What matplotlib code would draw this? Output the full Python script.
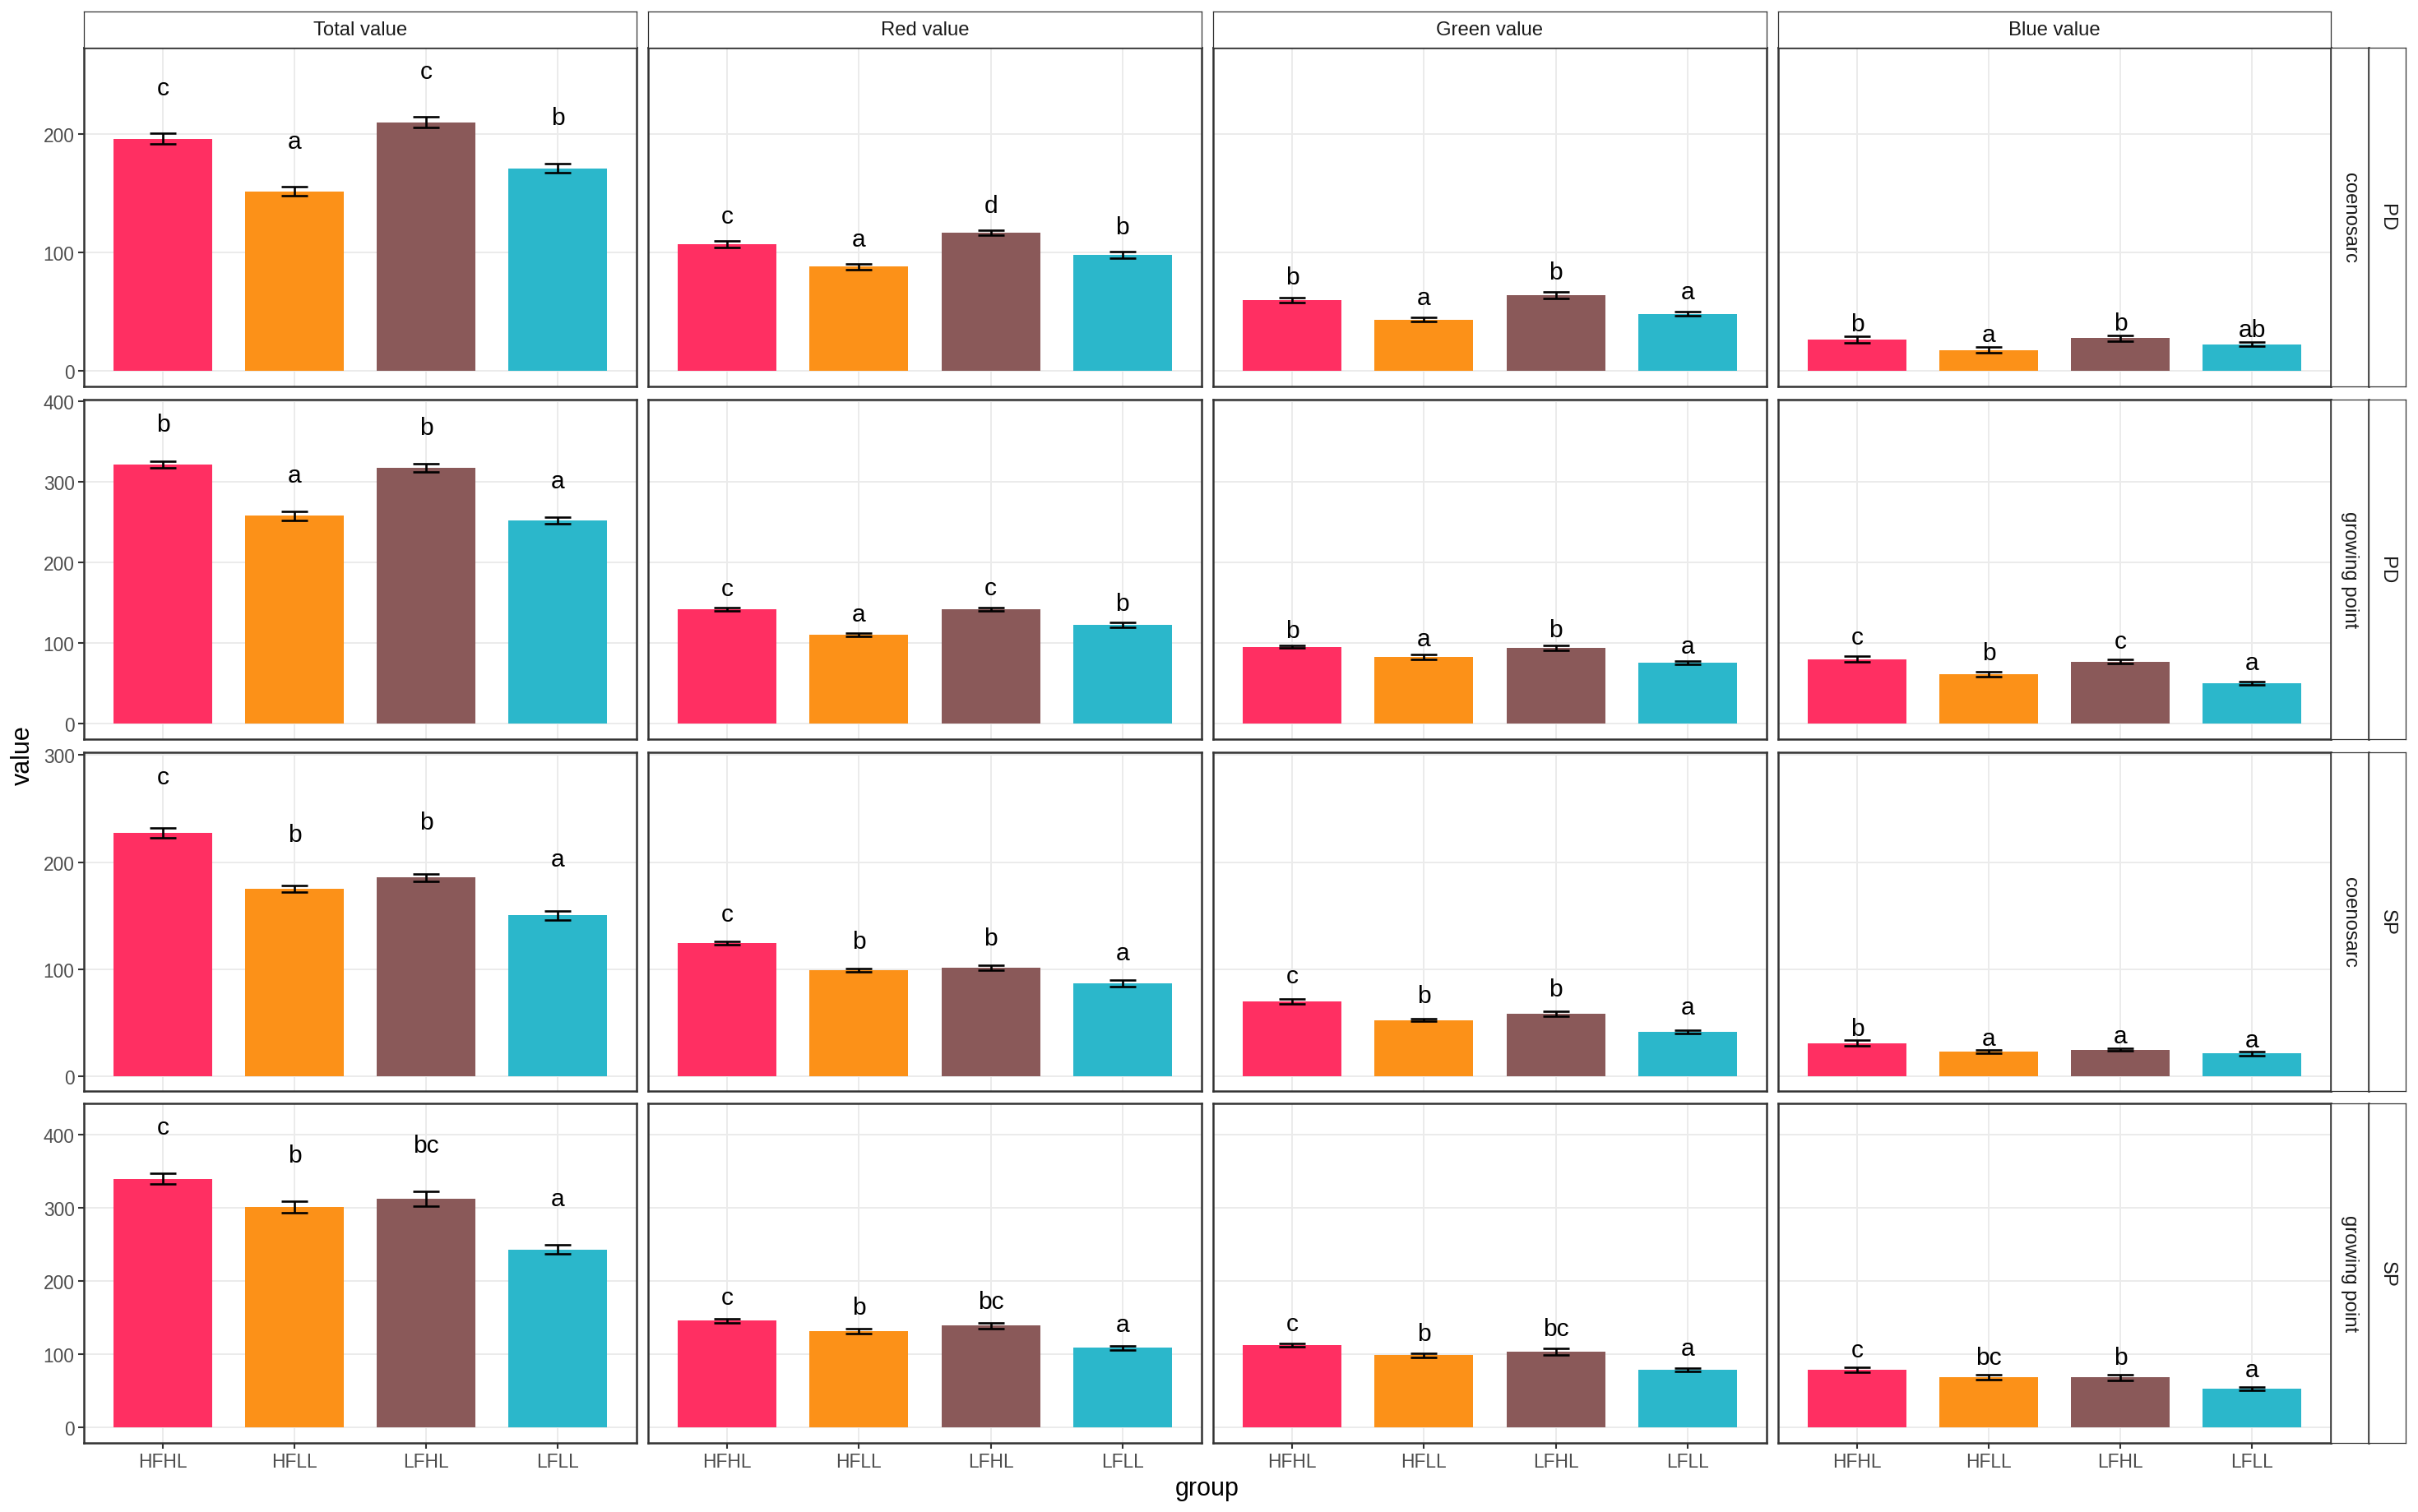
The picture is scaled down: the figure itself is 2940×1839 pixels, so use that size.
import numpy as np
import matplotlib
matplotlib.use("Agg")
import matplotlib.pyplot as plt

plt.rcParams["font.family"] = ["Liberation Sans", "DejaVu Sans"]

# ---- data ----
groups = ["HFHL", "HFLL", "LFHL", "LFLL"]
measures = ["Total value", "Red value", "Green value", "Blue value"]
tissue = ["coenosarc", "growing point", "coenosarc", "growing point"]
species = ["PD", "PD", "SP", "SP"]

# one list per facet row; inside: the 4 group means / standard errors
total_mean = [[196.0, 151.5, 209.7, 171.0], [321.9, 258.2, 317.8, 252.4],
              [227.2, 175.0, 185.8, 150.4], [339.5, 301.0, 312.4, 242.7]]
total_se = [[4.3, 3.9, 4.5, 3.9], [4.5, 5.5, 5.0, 3.7],
            [4.5, 3.0, 3.6, 4.5], [7.5, 8.0, 10.0, 6.2]]
red_mean = [[107.1, 88.0, 116.8, 98.2], [142.3, 110.6, 142.3, 123.1],
            [124.3, 99.1, 101.4, 86.7], [145.5, 131.3, 138.7, 108.4]]
red_se = [[2.8, 2.6, 2.2, 2.8], [2.0, 1.8, 2.5, 3.0],
          [1.6, 1.6, 2.3, 3.0], [3.0, 3.7, 4.4, 3.0]]
green_mean = [[60.0, 43.4, 63.7, 48.3], [95.6, 83.1, 94.4, 75.9],
              [70.2, 52.8, 58.3, 41.7], [112.5, 98.3, 103.7, 78.8]]
green_se = [[2.2, 1.6, 2.8, 1.6], [1.8, 3.3, 3.3, 1.8],
            [2.5, 1.2, 2.3, 1.6], [2.4, 2.7, 4.4, 2.4]]
blue_mean = [[26.4, 17.8, 27.6, 22.7], [80.1, 61.6, 77.1, 50.8],
             [31.2, 23.4, 25.2, 21.6], [78.8, 68.7, 68.0, 53.2]]
blue_se = [[2.6, 2.6, 2.4, 2.0], [3.6, 3.3, 2.4, 2.0],
           [2.5, 1.4, 1.4, 1.8], [3.7, 3.7, 4.0, 2.4]]

total_sig = [["c", "a", "c", "b"], ["b", "a", "b", "a"], ["c", "b", "b", "a"], ["c", "b", "bc", "a"]]
red_sig = [["c", "a", "d", "b"], ["c", "a", "c", "b"], ["c", "b", "b", "a"], ["c", "b", "bc", "a"]]
green_sig = [["b", "a", "b", "a"], ["b", "a", "b", "a"], ["c", "b", "b", "a"], ["c", "b", "bc", "a"]]
blue_sig = [["b", "a", "b", "ab"], ["c", "b", "c", "a"], ["b", "a", "a", "a"], ["c", "bc", "b", "a"]]

means = [total_mean, red_mean, green_mean, blue_mean]
ses = [total_se, red_se, green_se, blue_se]
sigs = [total_sig, red_sig, green_sig, blue_sig]

# ---- style / layout ----
colors = ["#FF2F62", "#FC9118", "#8A5959", "#2BB7CB"]
label_pad = [[33, 37, 42, 54], [15, 15.6, 19.3, 20],      # letter lift above bar+se, per panel
             [11.2, 10.6, 15, 17.7], [4.9, 15.2, 4.8, 14]]
row_ylim = [(-13, 272.7), (-19, 402.5), (-13.5, 302.6), (-21.3, 442.4)]
row_ticks = [[0, 100, 200], [0, 100, 200, 300, 400], [0, 100, 200, 300], [0, 100, 200, 300, 400]]

W, H, DPI = 2940, 1840, 200
col_px = [(102, 774), (788, 1461), (1475, 2148), (2162, 2834)]
row_px = [(59, 471), (487, 900), (916, 1328), (1343, 1756)]
GRID = "#EBEBEB"; BORDER = "#333333"

def box(l, t, r, b):
    return [l / W, 1 - b / H, (r - l) / W, (b - t) / H]

def strip(l, t, r, b, text, rot=0, thick_right=False):
    s = fig.add_axes(box(l, t, r, b))
    s.set_xticks([]); s.set_yticks([])
    s.set_facecolor("white")
    for sp in s.spines.values():
        sp.set_color(BORDER); sp.set_linewidth(0.45)
    if thick_right:
        s.spines["right"].set_linewidth(0.9)
    s.text(0.5, 0.5, text, transform=s.transAxes, ha="center", va="center",
           rotation=rot, fontsize=8.6, color="#1A1A1A")

fig = plt.figure(figsize=(W / DPI, H / DPI), dpi=DPI)
x = np.arange(len(groups))

for r in range(4):
    for c in range(4):
        l, rr = col_px[c]; t, b = row_px[r]
        ax = fig.add_axes(box(l, t, rr, b))
        m = np.array(means[c][r]); e = np.array(ses[c][r])
        ax.set_axisbelow(True)
        ax.grid(True, color=GRID, lw=0.7)
        ax.bar(x, m, width=0.75, color=colors, zorder=2)
        ax.vlines(x, m - e, m + e, color="black", lw=0.95, zorder=3)
        ax.hlines(np.concatenate([m - e, m + e]), np.tile(x - 0.1, 2), np.tile(x + 0.1, 2),
                  color="black", lw=0.95, zorder=3)
        for i in range(len(groups)):
            ax.text(x[i], m[i] + e[i] + label_pad[c][r], sigs[c][r][i], ha="center",
                    va="baseline", fontsize=10.8, color="black", zorder=4)
        ax.set_xlim(-0.6, 3.6)
        ax.set_ylim(*row_ylim[r])
        ax.set_yticks(row_ticks[r]); ax.set_xticks(x)
        for sp in ax.spines.values():
            sp.set_color(BORDER); sp.set_linewidth(0.9)
        ax.tick_params(length=2.5, width=0.75, color=BORDER, labelsize=8.2,
                       labelcolor="#4D4D4D", pad=1.6)
        if c == 0:
            ax.set_yticklabels([str(v) for v in row_ticks[r]])
        else:
            ax.tick_params(axis="y", length=0, labelleft=False)
        if r == 3:
            ax.set_xticklabels(groups)
        else:
            ax.tick_params(axis="x", length=0, labelbottom=False)
        if r == 0:
            strip(l, 15, rr, 59, measures[c])
        if c == 3:
            strip(2834, t, 2880, b, tissue[r], rot=270, thick_right=True)
            strip(2880, t, 2925, b, species[r], rot=270)

fig.text(28 / W, 1 - 919 / H, "value", rotation=90, ha="center", va="center", fontsize=11)
fig.text(1468 / W, 1 - 1811 / H, "group", ha="center", va="center", fontsize=11)

fig.savefig("out.png", dpi=DPI, facecolor="white")
